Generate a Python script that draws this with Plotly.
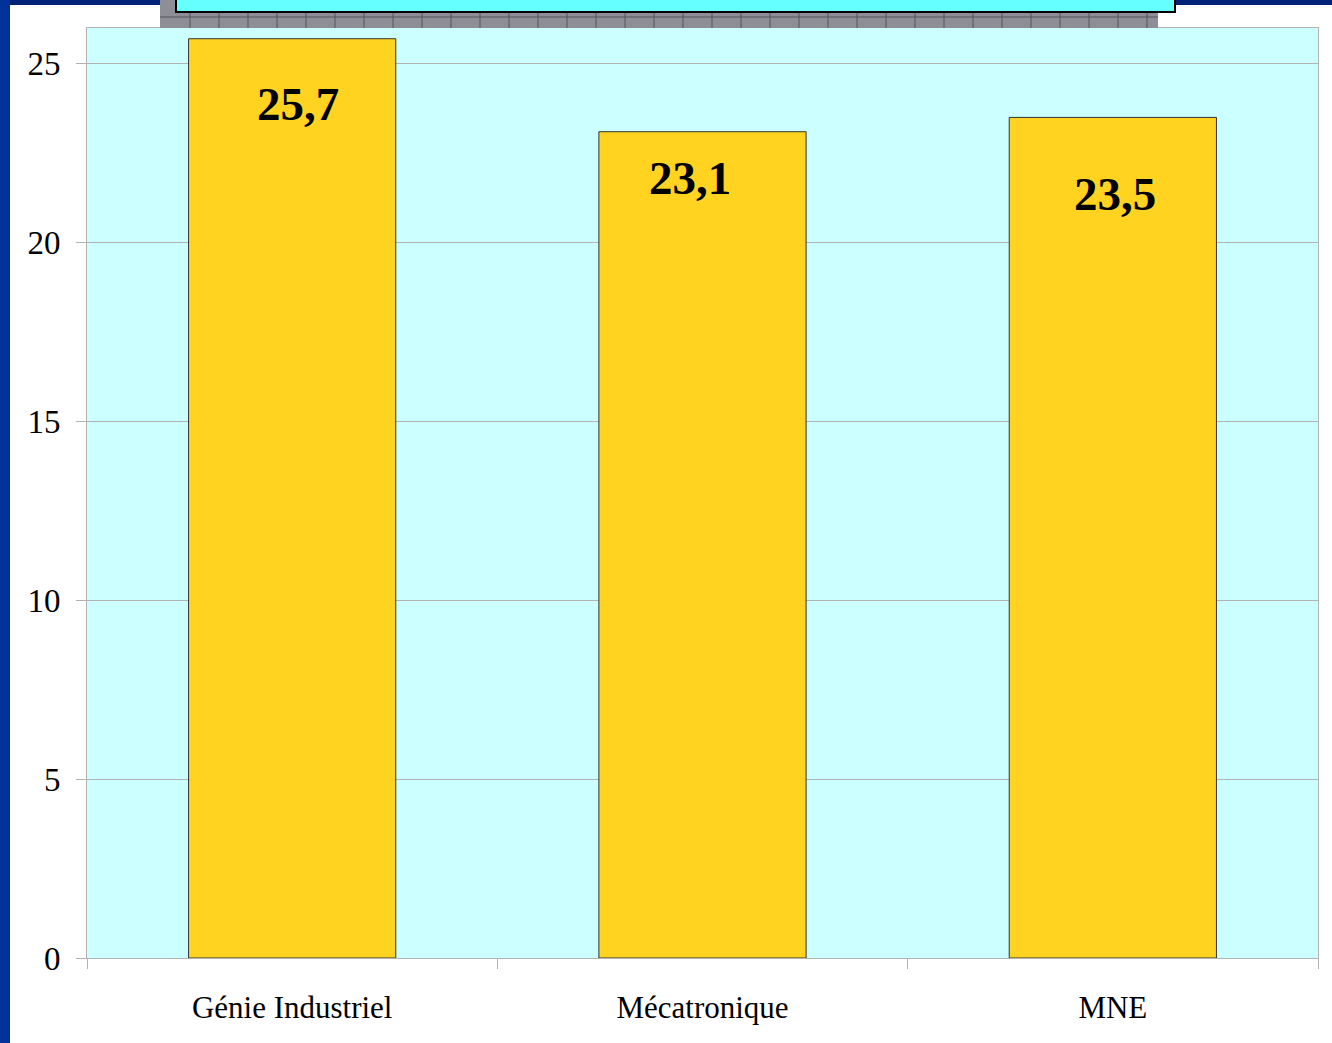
import plotly.graph_objects as go

categories = ["Génie Industriel", "Mécatronique", "MNE"]
values = [25.7, 23.1, 23.5]
value_labels = ["25,7", "23,1", "23,5"]
y_ticks = [0, 5, 10, 15, 20, 25]

W, H = 1332, 1043
L, R, T, B = 87, 14, 28, 85
label_shift = [-65, -46, -77]
label_xshift = [6, -13, 2]

def px(x):
    return (x - L) / (W - L - R)

def py(y):
    return 1 - (y - T) / (H - T - B)

fig = go.Figure()
fig.add_trace(go.Bar(
    x=categories, y=values,
    marker=dict(color="#FFD320", line=dict(color="#333333", width=1)),
    width=0.505, hoverinfo="skip",
))

for c, v, t, s, xs in zip(categories, values, value_labels, label_shift, label_xshift):
    fig.add_annotation(x=c, y=v, text="<b>" + t + "</b>", showarrow=False, yshift=s, xshift=xs,
                       font=dict(family="Liberation Serif", size=47, color="black"),
                       yanchor="middle")

shapes = []
# top navy strip
shapes.append(dict(type="rect", xref="paper", yref="paper", x0=px(0), x1=px(1332), y0=py(5), y1=py(0),
                   fillcolor="#00237A", line=dict(width=0), layer="above"))
# left blue strip
shapes.append(dict(type="rect", xref="paper", yref="paper", x0=px(0), x1=px(10), y0=py(1043), y1=py(0),
                   fillcolor="#003399", line=dict(width=0), layer="above"))
# grey patterned block
shapes.append(dict(type="rect", xref="paper", yref="paper", x0=px(160), x1=px(1158), y0=py(28), y1=py(0),
                   fillcolor="#8E8E96", line=dict(width=0), layer="above"))
for xv in range(190, 1158, 29):
    shapes.append(dict(type="line", xref="paper", yref="paper", x0=px(xv), x1=px(xv), y0=py(28), y1=py(0),
                       line=dict(color="#55555C", width=1), layer="above"))
shapes.append(dict(type="line", xref="paper", yref="paper", x0=px(160), x1=px(1158), y0=py(17), y1=py(17),
                   line=dict(color="#55555C", width=1), layer="above"))
# cyan title box
shapes.append(dict(type="rect", xref="paper", yref="paper", x0=px(176), x1=px(1175), y0=py(12), y1=py(-5),
                   fillcolor="#66FFFF", line=dict(color="black", width=2), layer="above"))

fig.update_layout(
    width=W, height=H,
    margin=dict(l=L, r=R, t=T, b=B),
    paper_bgcolor="white", plot_bgcolor="#CCFFFF",
    showlegend=False,
    shapes=shapes,
    font=dict(family="Liberation Serif", size=32, color="black"),
)
fig.update_xaxes(
    tickson="boundaries", ticks="outside", ticklen=10, tickcolor="#B3B3B3",
    showline=True, linecolor="#B3B3B3", linewidth=1, mirror=True,
    showgrid=False, ticklabelstandoff=22,
    tickfont=dict(family="Liberation Serif", size=31),
)
fig.update_yaxes(
    range=[0, 26], tickvals=y_ticks, ticks="outside", ticklen=10, tickcolor="#B3B3B3",
    showline=True, linecolor="#B3B3B3", linewidth=1, mirror=True,
    showgrid=True, gridcolor="#B3B3B3", gridwidth=1, zeroline=False,
    ticklabelstandoff=9,
    tickfont=dict(family="Liberation Serif", size=33),
)

fig.write_html("out.html", config={"displayModeBar": False},
               post_script="document.body.style.margin='0';document.body.style.overflow='hidden';")
